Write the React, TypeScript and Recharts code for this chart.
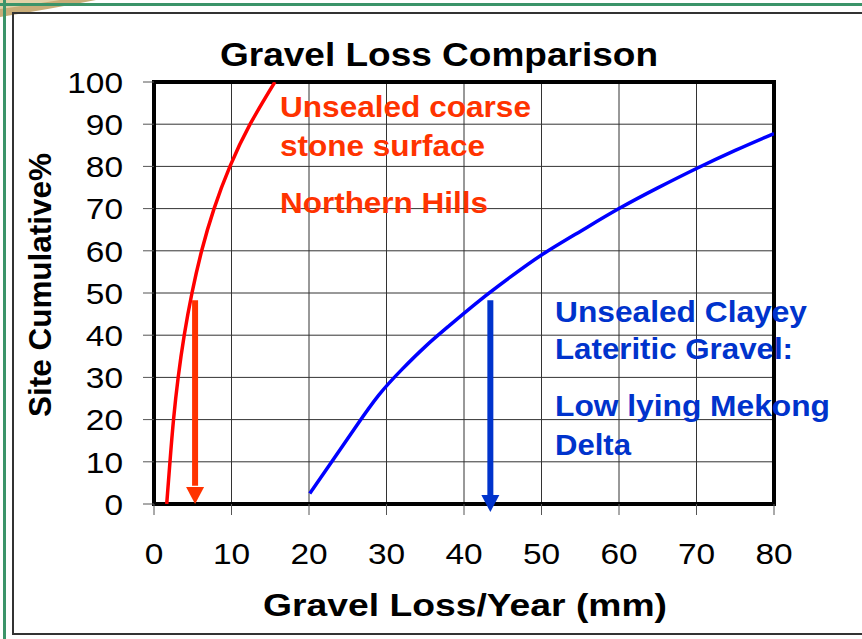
import React from "react";
import {
  LineChart,
  Line,
  XAxis,
  YAxis,
  CartesianGrid,
  ReferenceArea,
  ReferenceLine,
  ReferenceDot,
} from "recharts";

// values
const xTicks = [0, 10, 20, 30, 40, 50, 60, 70, 80];
const yTicks = [0, 10, 20, 30, 40, 50, 60, 70, 80, 90, 100];

// Unsealed coarse stone surface - Northern Hills
const coarseStone = [
  { x: 1.64, y: 0 },
  { x: 2.06, y: 10 },
  { x: 2.52, y: 20 },
  { x: 3.12, y: 30 },
  { x: 3.9, y: 40 },
  { x: 4.9, y: 50 },
  { x: 6.15, y: 60 },
  { x: 7.75, y: 70 },
  { x: 9.8, y: 80 },
  { x: 12.4, y: 90 },
  { x: 15.6, y: 100 },
];

// Unsealed clayey lateritic gravel - Low lying Mekong Delta
const clayeyGravel = [
  { x: 20.1, y: 2.5 },
  { x: 23, y: 10.2 },
  { x: 26, y: 18.2 },
  { x: 29, y: 25.8 },
  { x: 32, y: 31.9 },
  { x: 35, y: 37.3 },
  { x: 38, y: 42.1 },
  { x: 42, y: 48.2 },
  { x: 46, y: 53.8 },
  { x: 50, y: 59 },
  { x: 55, y: 64.6 },
  { x: 60, y: 70 },
  { x: 65, y: 74.9 },
  { x: 70, y: 79.5 },
  { x: 75, y: 83.8 },
  { x: 80, y: 87.8 },
];

// median (50%) arrows
const coarseMedian = { x: 5.3, top: 48.3, base: 4.3, tip: 0 };
const clayeyMedian = { x: 43.4, top: 48.3, base: 2.1, tip: -1.9 };

const coarseLabel = ["Unsealed coarse", "stone surface", "Northern Hills"];
const clayeyLabel = ["Unsealed Clayey", "Lateritic Gravel:", "Low lying Mekong", "Delta"];

const FONT = "'Liberation Sans', Arial, sans-serif";
const RED_TEXT = "#FF3300";
const BLUE_TEXT = "#0033CC";

const arrowHead = (color: string) => (props: any) => {
  const { cx, cy } = props;
  return (
    <path
      d={`M${cx - 9},${cy - 17} L${cx + 9},${cy - 17} L${cx},${cy} Z`}
      fill={color}
      stroke="none"
    />
  );
};

// the slide is slightly stretched sideways, so digits get a bit of extra width
const YTick = (props: any) => {
  const { x, y, payload } = props;
  const s = String(payload.value);
  return (
    <text
      x={x}
      y={y}
      dy="0.36em"
      textAnchor="end"
      fontSize={30}
      textLength={s.length * 18.6}
      lengthAdjust="spacingAndGlyphs"
      fill="#000"
      fontFamily={FONT}
    >
      {s}
    </text>
  );
};

const XTick = (props: any) => {
  const { x, y, payload } = props;
  const s = String(payload.value);
  return (
    <text
      x={x}
      y={y}
      dy="0.71em"
      textAnchor="middle"
      fontSize={30}
      textLength={s.length * 18.6}
      lengthAdjust="spacingAndGlyphs"
      fill="#000"
      fontFamily={FONT}
    >
      {s}
    </text>
  );
};

export default function App() {
  return (
    <div style={{ position: "absolute", left: 0, top: 0, width: 862, height: 639, background: "#fff", fontFamily: FONT }}>
      {/* slide frame */}
      <svg width={862} height={639} style={{ position: "absolute", left: 0, top: 0 }}>
        <path d="M0,0 L96,0 Q50,9 0,17 Z" fill="#c8ad78" />
        <path d="M0,0 L60,0 Q30,5 0,9 Z" fill="#e2d2a8" />
        <line x1={0} y1={4.5} x2={862} y2={4.5} stroke="#3b9469" strokeWidth={3} />
        <line x1={4.5} y1={0} x2={4.5} y2={639} stroke="#3b9469" strokeWidth={3} />
        <polyline points="862,13 13,13 13,634 862,634" fill="none" stroke="#333" strokeWidth={2} />
      </svg>

      <div style={{ position: "absolute", left: 0, top: 0 }}>
        <LineChart width={862} height={639} margin={{ top: 82, right: 88, bottom: 75, left: 54 }}>
          <CartesianGrid stroke="#333" strokeWidth={1} />
          <XAxis
            type="number"
            dataKey="x"
            domain={[0, 80]}
            ticks={xTicks}
            allowDataOverflow
            height={60}
            tickSize={11}
            tickMargin={28}
            axisLine={false}
            tickLine={{ stroke: "#555" }}
            tick={<XTick />}
          />
          <YAxis
            type="number"
            dataKey="y"
            domain={[0, 100]}
            ticks={yTicks}
            allowDataOverflow
            width={100}
            tickSize={11}
            tickMargin={20}
            axisLine={false}
            tickLine={{ stroke: "#555" }}
            tick={<YTick />}
          />
          <ReferenceArea x1={0} x2={80} y1={0} y2={100} fill="none" stroke="#000" strokeWidth={4} fillOpacity={0} />
          <Line
            data={coarseStone}
            dataKey="y"
            type="natural"
            stroke="#FF0000"
            strokeWidth={3.5}
            dot={false}
            isAnimationActive={false}
          />
          <Line
            data={clayeyGravel}
            dataKey="y"
            type="natural"
            stroke="#0000FF"
            strokeWidth={3.5}
            dot={false}
            isAnimationActive={false}
          />
          <ReferenceLine
            segment={[
              { x: coarseMedian.x, y: coarseMedian.top },
              { x: coarseMedian.x, y: coarseMedian.base },
            ]}
            stroke={RED_TEXT}
            strokeWidth={6}
            ifOverflow="visible"
          />
          <ReferenceDot
            x={coarseMedian.x}
            y={coarseMedian.tip}
            ifOverflow="visible"
            shape={arrowHead(RED_TEXT)}
          />
          <ReferenceLine
            segment={[
              { x: clayeyMedian.x, y: clayeyMedian.top },
              { x: clayeyMedian.x, y: clayeyMedian.base },
            ]}
            stroke={BLUE_TEXT}
            strokeWidth={6}
            ifOverflow="visible"
          />
          <ReferenceDot
            x={clayeyMedian.x}
            y={clayeyMedian.tip}
            ifOverflow="visible"
            shape={arrowHead(BLUE_TEXT)}
          />
        </LineChart>
      </div>

      {/* titles and annotations */}
      <svg
        width={862}
        height={639}
        style={{ position: "absolute", left: 0, top: 0, pointerEvents: "none" }}
        fontFamily={FONT}
        fontWeight="bold"
      >
        <text x={220} y={66} fontSize={33} textLength={438} lengthAdjust="spacingAndGlyphs" fill="#000">
          Gravel Loss Comparison
        </text>
        <text x={263} y={616} fontSize={32} textLength={404} lengthAdjust="spacingAndGlyphs" fill="#000">
          Gravel Loss/Year (mm)
        </text>
        <text
          transform="translate(51,285) rotate(-90)"
          x={-132}
          y={0}
          fontSize={31}
          textLength={264}
          lengthAdjust="spacingAndGlyphs"
          fill="#000"
        >
          Site Cumulative%
        </text>

        <text x={280} y={117} fontSize={30} textLength={251} lengthAdjust="spacingAndGlyphs" fill={RED_TEXT}>{coarseLabel[0]}</text>
        <text x={280} y={156} fontSize={30} textLength={205} lengthAdjust="spacingAndGlyphs" fill={RED_TEXT}>{coarseLabel[1]}</text>
        <text x={280} y={213} fontSize={30} textLength={208} lengthAdjust="spacingAndGlyphs" fill={RED_TEXT}>{coarseLabel[2]}</text>

        <text x={555} y={322} fontSize={30} textLength={252} lengthAdjust="spacingAndGlyphs" fill={BLUE_TEXT}>{clayeyLabel[0]}</text>
        <text x={555} y={359} fontSize={30} textLength={238} lengthAdjust="spacingAndGlyphs" fill={BLUE_TEXT}>{clayeyLabel[1]}</text>
        <text x={555} y={416} fontSize={30} textLength={275} lengthAdjust="spacingAndGlyphs" fill={BLUE_TEXT}>{clayeyLabel[2]}</text>
        <text x={555} y={455} fontSize={30} textLength={76} lengthAdjust="spacingAndGlyphs" fill={BLUE_TEXT}>{clayeyLabel[3]}</text>
      </svg>
    </div>
  );
}
